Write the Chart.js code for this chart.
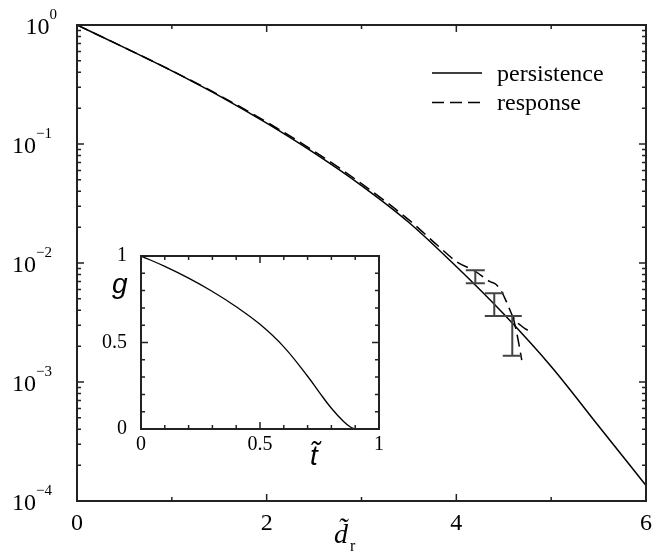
<!DOCTYPE html>
<html>
<head>
<meta charset="utf-8">
<script src="https://cdn.jsdelivr.net/npm/chart.js@4"></script>
<style>
  html, body { margin: 0; padding: 0; background: #fff; }
  #wrap { position: relative; width: 664px; height: 551px; }
  #main { position: absolute; left: 0; top: 0; }
  #inset { position: absolute; left: 95px; top: 230px; }
</style>
</head>
<body>
<div id="wrap">
  <canvas id="main" width="664" height="551" style="width:664px;height:551px"></canvas>
  <canvas id="inset" width="295" height="245" style="width:295px;height:245px"></canvas>
</div>
<script>
// main panel data
const persistX = [0, 0.5, 1, 1.5, 2, 2.5, 3, 3.5, 4, 4.5, 5, 5.5, 6];
const persistY = [1, 0.646, 0.412, 0.254, 0.1496, 0.0841, 0.0447, 0.0219, 0.00933, 0.00372, 0.00135, 0.000427, 0.000135];
const responseX = [0, 0.5, 1, 1.5, 2, 2.5, 3, 3.5, 3.8, 4.0, 4.2, 4.35, 4.42, 4.48, 4.54, 4.6, 4.7, 4.8];
const responseY = [1, 0.646, 0.413, 0.257, 0.153, 0.087, 0.0465, 0.023, 0.0141, 0.0103, 0.0085, 0.007, 0.0066, 0.0057, 0.0045, 0.0035, 0.0029, 0.0026];
const responseTailX = [4.6, 4.645, 4.69];
const responseTailY = [0.0035, 0.0024, 0.00153];
const errX = [4.2, 4.4, 4.59];
const errLow = [0.00676, 0.00359, 0.00166];
const errHigh = [0.00871, 0.00556, 0.00359];
const mainXTicks = [0, 2, 4, 6];
const mainXMinor = [1, 3, 5];
const mainYTicks = [1, 0.1, 0.01, 0.001, 0.0001];

// inset data
const insetT = [0, 0.1, 0.2, 0.3, 0.4, 0.5, 0.6, 0.7, 0.75, 0.8, 0.85, 0.88, 0.9];
const insetG = [1, 0.94, 0.872, 0.795, 0.707, 0.605, 0.475, 0.305, 0.21, 0.12, 0.045, 0.012, 0];
const insetTicks = [0, 0.5, 1];
const insetMinor = [0.1, 0.2, 0.3, 0.4, 0.6, 0.7, 0.8, 0.9];

const SERIF = '"Liberation Serif", "Times New Roman", serif';
const SANS = '"Liberation Sans", Arial, sans-serif';

const pts = (xs, ys) => xs.map((x, i) => ({ x: x, y: ys[i] }));

// log minor ticks 2..9 x 10^k
const logMinor = [];
for (let k = -4; k < 0; k++) for (let m = 2; m <= 9; m++) logMinor.push(m * Math.pow(10, k));

const frameTicks = {
  id: "frameTicks",
  afterDatasetsDraw(chart, args, opts) {
    const { ctx, chartArea: a, scales: { x, y } } = chart;
    ctx.save();
    ctx.strokeStyle = "#222";
    ctx.lineWidth = 2;
    ctx.strokeRect(a.left, a.top, a.right - a.left, a.bottom - a.top);
    ctx.lineWidth = 1.5;
    ctx.beginPath();
    const xt = (vals, len) => vals.forEach((v) => {
      const px = x.getPixelForValue(v);
      ctx.moveTo(px, a.bottom); ctx.lineTo(px, a.bottom - len);
      ctx.moveTo(px, a.top); ctx.lineTo(px, a.top + len);
    });
    const yt = (vals, len) => vals.forEach((v) => {
      const py = y.getPixelForValue(v);
      ctx.moveTo(a.left, py); ctx.lineTo(a.left + len, py);
      ctx.moveTo(a.right, py); ctx.lineTo(a.right - len, py);
    });
    xt(opts.xMajor, 7); xt(opts.xMinor, 4);
    yt(opts.yMajor, 7); yt(opts.yMinor, 4);
    ctx.stroke();
    ctx.restore();
  },
};

const mainDecor = {
  id: "mainDecor",
  afterDatasetsDraw(chart) {
    const { ctx, chartArea: a, scales: { x, y } } = chart;
    ctx.save();
    // error bars
    ctx.strokeStyle = "#444";
    ctx.lineWidth = 2;
    ctx.beginPath();
    errX.forEach((v, i) => {
      const px = x.getPixelForValue(v);
      const lo = y.getPixelForValue(errLow[i]);
      const hi = y.getPixelForValue(errHigh[i]);
      ctx.moveTo(px, lo); ctx.lineTo(px, hi);
      ctx.moveTo(px - 9.5, lo); ctx.lineTo(px + 9.5, lo);
      ctx.moveTo(px - 9.5, hi); ctx.lineTo(px + 9.5, hi);
    });
    ctx.stroke();

    // y tick labels 10^k
    ctx.fillStyle = "#000";
    ctx.textBaseline = "alphabetic";
    mainYTicks.forEach((v) => {
      const e = Math.round(Math.log10(v));
      const py = y.getPixelForValue(v);
      const exp = e === 0 ? "0" : "\u2212" + Math.abs(e);
      ctx.font = "15px " + SERIF;
      const ew = ctx.measureText(exp).width;
      const right = e === 0 ? 57 : 52;
      ctx.textAlign = "left";
      ctx.fillText(exp, right - ew, py - 6);
      ctx.textAlign = "right";
      ctx.font = "24px " + SERIF;
      ctx.fillText("10", right - ew, py + 9);
    });

    // x axis title
    ctx.textAlign = "left";
    ctx.font = "italic 28px " + SERIF;
    ctx.fillText("d\u0303", 334, 543);
    ctx.font = "16px " + SERIF;
    ctx.fillText("r", 350, 551);

    // legend
    ctx.font = "24px " + SERIF;
    chart.data.datasets.forEach((ds, i) => {
      if (!ds.label) return;
      const ly = 73 + i * 29.5;
      ctx.strokeStyle = ds.borderColor;
      ctx.lineWidth = ds.borderWidth;
      ctx.setLineDash(ds.borderDash || []);
      ctx.beginPath();
      ctx.moveTo(432, ly); ctx.lineTo(482, ly);
      ctx.stroke();
      ctx.setLineDash([]);
      ctx.fillText(ds.label, 497, ly + 7.5);
    });
    ctx.restore();
  },
};

new Chart(document.getElementById("main").getContext("2d"), {
  type: "line",
  data: {
    datasets: [
      {
        label: "persistence",
        data: pts(persistX, persistY),
        borderColor: "#000",
        borderWidth: 1.5,
        pointRadius: 0,
        cubicInterpolationMode: "monotone",
      },
      {
        label: "response",
        data: pts(responseX, responseY),
        borderColor: "#000",
        borderWidth: 1.5,
        borderDash: [12, 6],
        pointRadius: 0,
        cubicInterpolationMode: "monotone",
      },
      {
        label: "",
        data: pts(responseTailX, responseTailY),
        borderColor: "#000",
        borderWidth: 1.5,
        borderDash: [12, 6],
        pointRadius: 0,
        cubicInterpolationMode: "monotone",
      },
    ],
  },
  options: {
    responsive: false,
    animation: false,
    layout: { padding: { top: 25, right: 18, left: 0, bottom: 0 } },
    plugins: {
      legend: { display: false },
      tooltip: { enabled: false },
      frameTicks: { xMajor: mainXTicks, xMinor: mainXMinor, yMajor: mainYTicks, yMinor: logMinor },
    },
    scales: {
      x: {
        type: "linear",
        min: 0,
        max: 6,
        afterBuildTicks: (s) => { s.ticks = mainXTicks.map((v) => ({ value: v })); },
        afterFit: (s) => { s.height = 50; },
        grid: { display: false, drawTicks: false },
        border: { display: false },
        ticks: {
          color: "#000",
          padding: 8,
          maxRotation: 0,
          font: { family: SERIF, size: 24 },
          callback: (v) => String(v),
        },
      },
      y: {
        type: "logarithmic",
        min: 0.0001,
        max: 1,
        afterBuildTicks: (s) => { s.ticks = mainYTicks.map((v) => ({ value: v })); },
        afterFit: (s) => { s.width = 77; },
        grid: { display: false, drawTicks: false },
        border: { display: false },
        ticks: { display: false },
      },
    },
  },
  plugins: [frameTicks, mainDecor],
});

const insetDecor = {
  id: "insetDecor",
  afterDraw(chart) {
    const { ctx } = chart;
    ctx.save();
    ctx.fillStyle = "#000";
    ctx.textAlign = "left";
    ctx.textBaseline = "alphabetic";
    ctx.font = "italic 28px " + SANS;
    ctx.fillText("g", 17, 63);
    ctx.fillText("t\u0303", 215, 235);
    ctx.restore();
  },
};

new Chart(document.getElementById("inset").getContext("2d"), {
  type: "line",
  data: {
    datasets: [
      {
        label: "g",
        data: pts(insetT, insetG),
        borderColor: "#000",
        borderWidth: 1.3,
        pointRadius: 0,
        tension: 0.4,
      },
    ],
  },
  options: {
    responsive: false,
    animation: false,
    layout: { padding: { top: 14, right: 11, left: 0, bottom: 0 } },
    plugins: {
      legend: { display: false },
      tooltip: { enabled: false },
      frameTicks: { xMajor: insetTicks, xMinor: insetMinor, yMajor: insetTicks, yMinor: insetMinor },
    },
    scales: {
      x: {
        type: "linear",
        min: 0,
        max: 1,
        afterBuildTicks: (s) => { s.ticks = insetTicks.map((v) => ({ value: v })); },
        afterFit: (s) => { s.height = 46; },
        grid: { display: false, drawTicks: false },
        border: { display: false },
        ticks: {
          color: "#000",
          padding: 4,
          maxRotation: 0,
          font: { family: SERIF, size: 20 },
          callback: (v) => String(v),
        },
      },
      y: {
        type: "linear",
        min: 0,
        max: 1,
        afterBuildTicks: (s) => { s.ticks = insetTicks.map((v) => ({ value: v })); },
        afterFit: (s) => { s.width = 46; },
        grid: { display: false, drawTicks: false },
        border: { display: false },
        ticks: {
          color: "#000",
          padding: 14,
          font: { family: SERIF, size: 20 },
          callback: (v) => String(v),
        },
      },
    },
  },
  plugins: [frameTicks, insetDecor],
});
</script>
</body>
</html>
